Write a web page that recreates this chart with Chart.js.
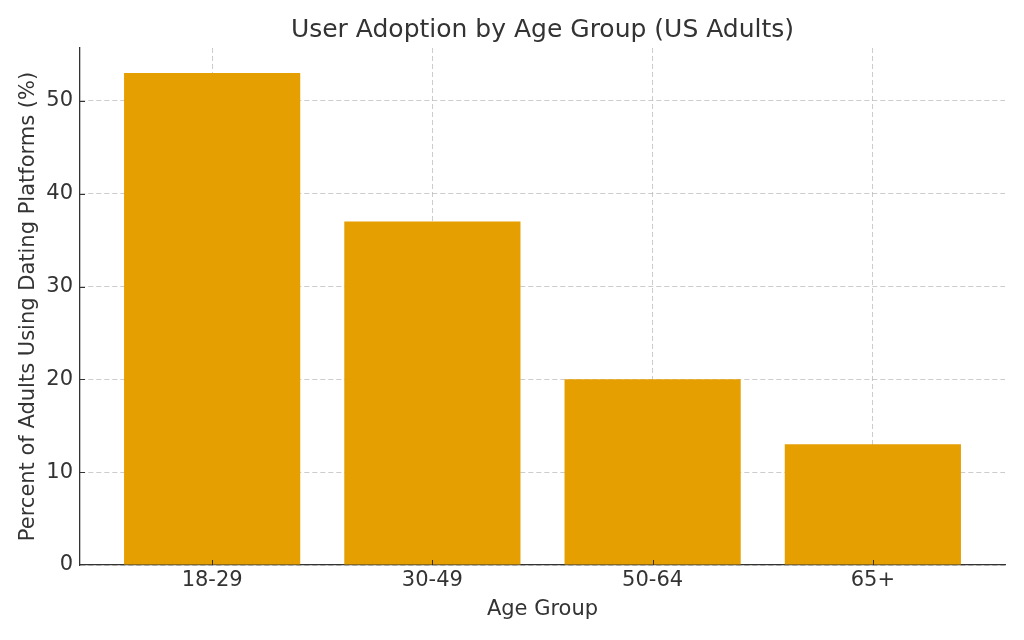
<!DOCTYPE html>
<html>
<head>
<meta charset="utf-8">
<script src="https://cdn.jsdelivr.net/npm/chart.js@4/dist/chart.umd.min.js"></script>
<style>
  html, body { margin: 0; padding: 0; background: #ffffff; }
  #wrap { width: 1024px; height: 640px; }
</style>
</head>
<body>
<div id="wrap"><canvas id="c" width="1024" height="640"></canvas></div>
<script>
const categories = ["18-29", "30-49", "50-64", "65+"];
const percentValues = [53, 37, 20, 13];
const yTickValues = [0, 10, 20, 30, 40, 50];
const titleText = "User Adoption by Age Group (US Adults)";
const xAxisTitle = "Age Group";
const yAxisTitle = "Percent of Adults Using Dating Platforms (%)";

const FONT = "'DejaVu Sans', sans-serif";
const TEXT = "#333333";
const GRID = "rgba(176,176,176,0.65)";

const innerTicks = {
  id: 'innerTicks',
  afterDraw(chart) {
    const ctx = chart.ctx;
    const xs = chart.scales.x, ys = chart.scales.y;
    ctx.save();
    ctx.strokeStyle = TEXT;
    ctx.lineWidth = 1;
    ctx.beginPath();
    categories.forEach((_, i) => {
      const px = Math.round(xs.getPixelForValue(i)) + 0.5;
      ctx.moveTo(px, ys.bottom);
      ctx.lineTo(px, ys.bottom - 5);
    });
    yTickValues.forEach(v => {
      if (v === 0) return;
      const py = Math.round(ys.getPixelForValue(v)) + 0.5;
      ctx.moveTo(xs.left, py);
      ctx.lineTo(xs.left + 5, py);
    });
    ctx.stroke();
    ctx.restore();
  }
};

new Chart(document.getElementById('c'), {
  type: 'bar',
  data: {
    datasets: [{
      data: categories.map((c, i) => ({ x: i, y: percentValues[i] })),
      backgroundColor: '#E69F00',
      borderWidth: 0,
      barPercentage: 0.8,
      categoryPercentage: 1.0
    }]
  },
  options: {
    responsive: false,
    animation: false,
    devicePixelRatio: 1,
    layout: { padding: { left: 0, right: 19, top: 0, bottom: 0 } },
    plugins: {
      legend: { display: false },
      tooltip: { enabled: false },
      title: {
        display: true,
        text: titleText,
        fullSize: false,
        color: TEXT,
        font: { family: FONT, size: 25, weight: 'normal' },
        padding: { top: 15, bottom: 3 }
      }
    },
    scales: {
      x: {
        type: 'linear',
        min: -0.6,
        max: 3.6,
        offset: false,
        z: 1,
        afterBuildTicks: s => { s.ticks = categories.map((c, i) => ({ value: i })); },
        afterFit: s => { s.height = 75; },
        ticks: {
          color: TEXT,
          font: { family: FONT, size: 21 },
          padding: 3,
          maxRotation: 0,
          autoSkip: false,
          callback: v => categories[v]
        },
        grid: { color: GRID, lineWidth: 1, drawTicks: false, offset: false },
        border: { display: true, color: TEXT, width: 1.3, dash: [5, 3] },
        title: {
          display: true, text: xAxisTitle, color: TEXT,
          font: { family: FONT, size: 21 },
          padding: { top: 0, bottom: 18 }
        }
      },
      y: {
        type: 'linear',
        min: 0,
        max: 55.7,
        z: 1,
        afterBuildTicks: s => { s.ticks = yTickValues.map(v => ({ value: v })); },
        afterFit: s => { s.width = 80; },
        ticks: {
          color: TEXT,
          font: { family: FONT, size: 21 },
          padding: 7
        },
        grid: { color: GRID, lineWidth: 1, drawTicks: false },
        border: { display: true, color: TEXT, width: 1.3, dash: [5, 3] },
        title: {
          display: true, text: yAxisTitle, color: TEXT,
          font: { family: FONT, size: 21 },
          padding: { top: 16, bottom: 0 }
        }
      }
    }
  },
  plugins: [innerTicks]
});
</script>
</body>
</html>
